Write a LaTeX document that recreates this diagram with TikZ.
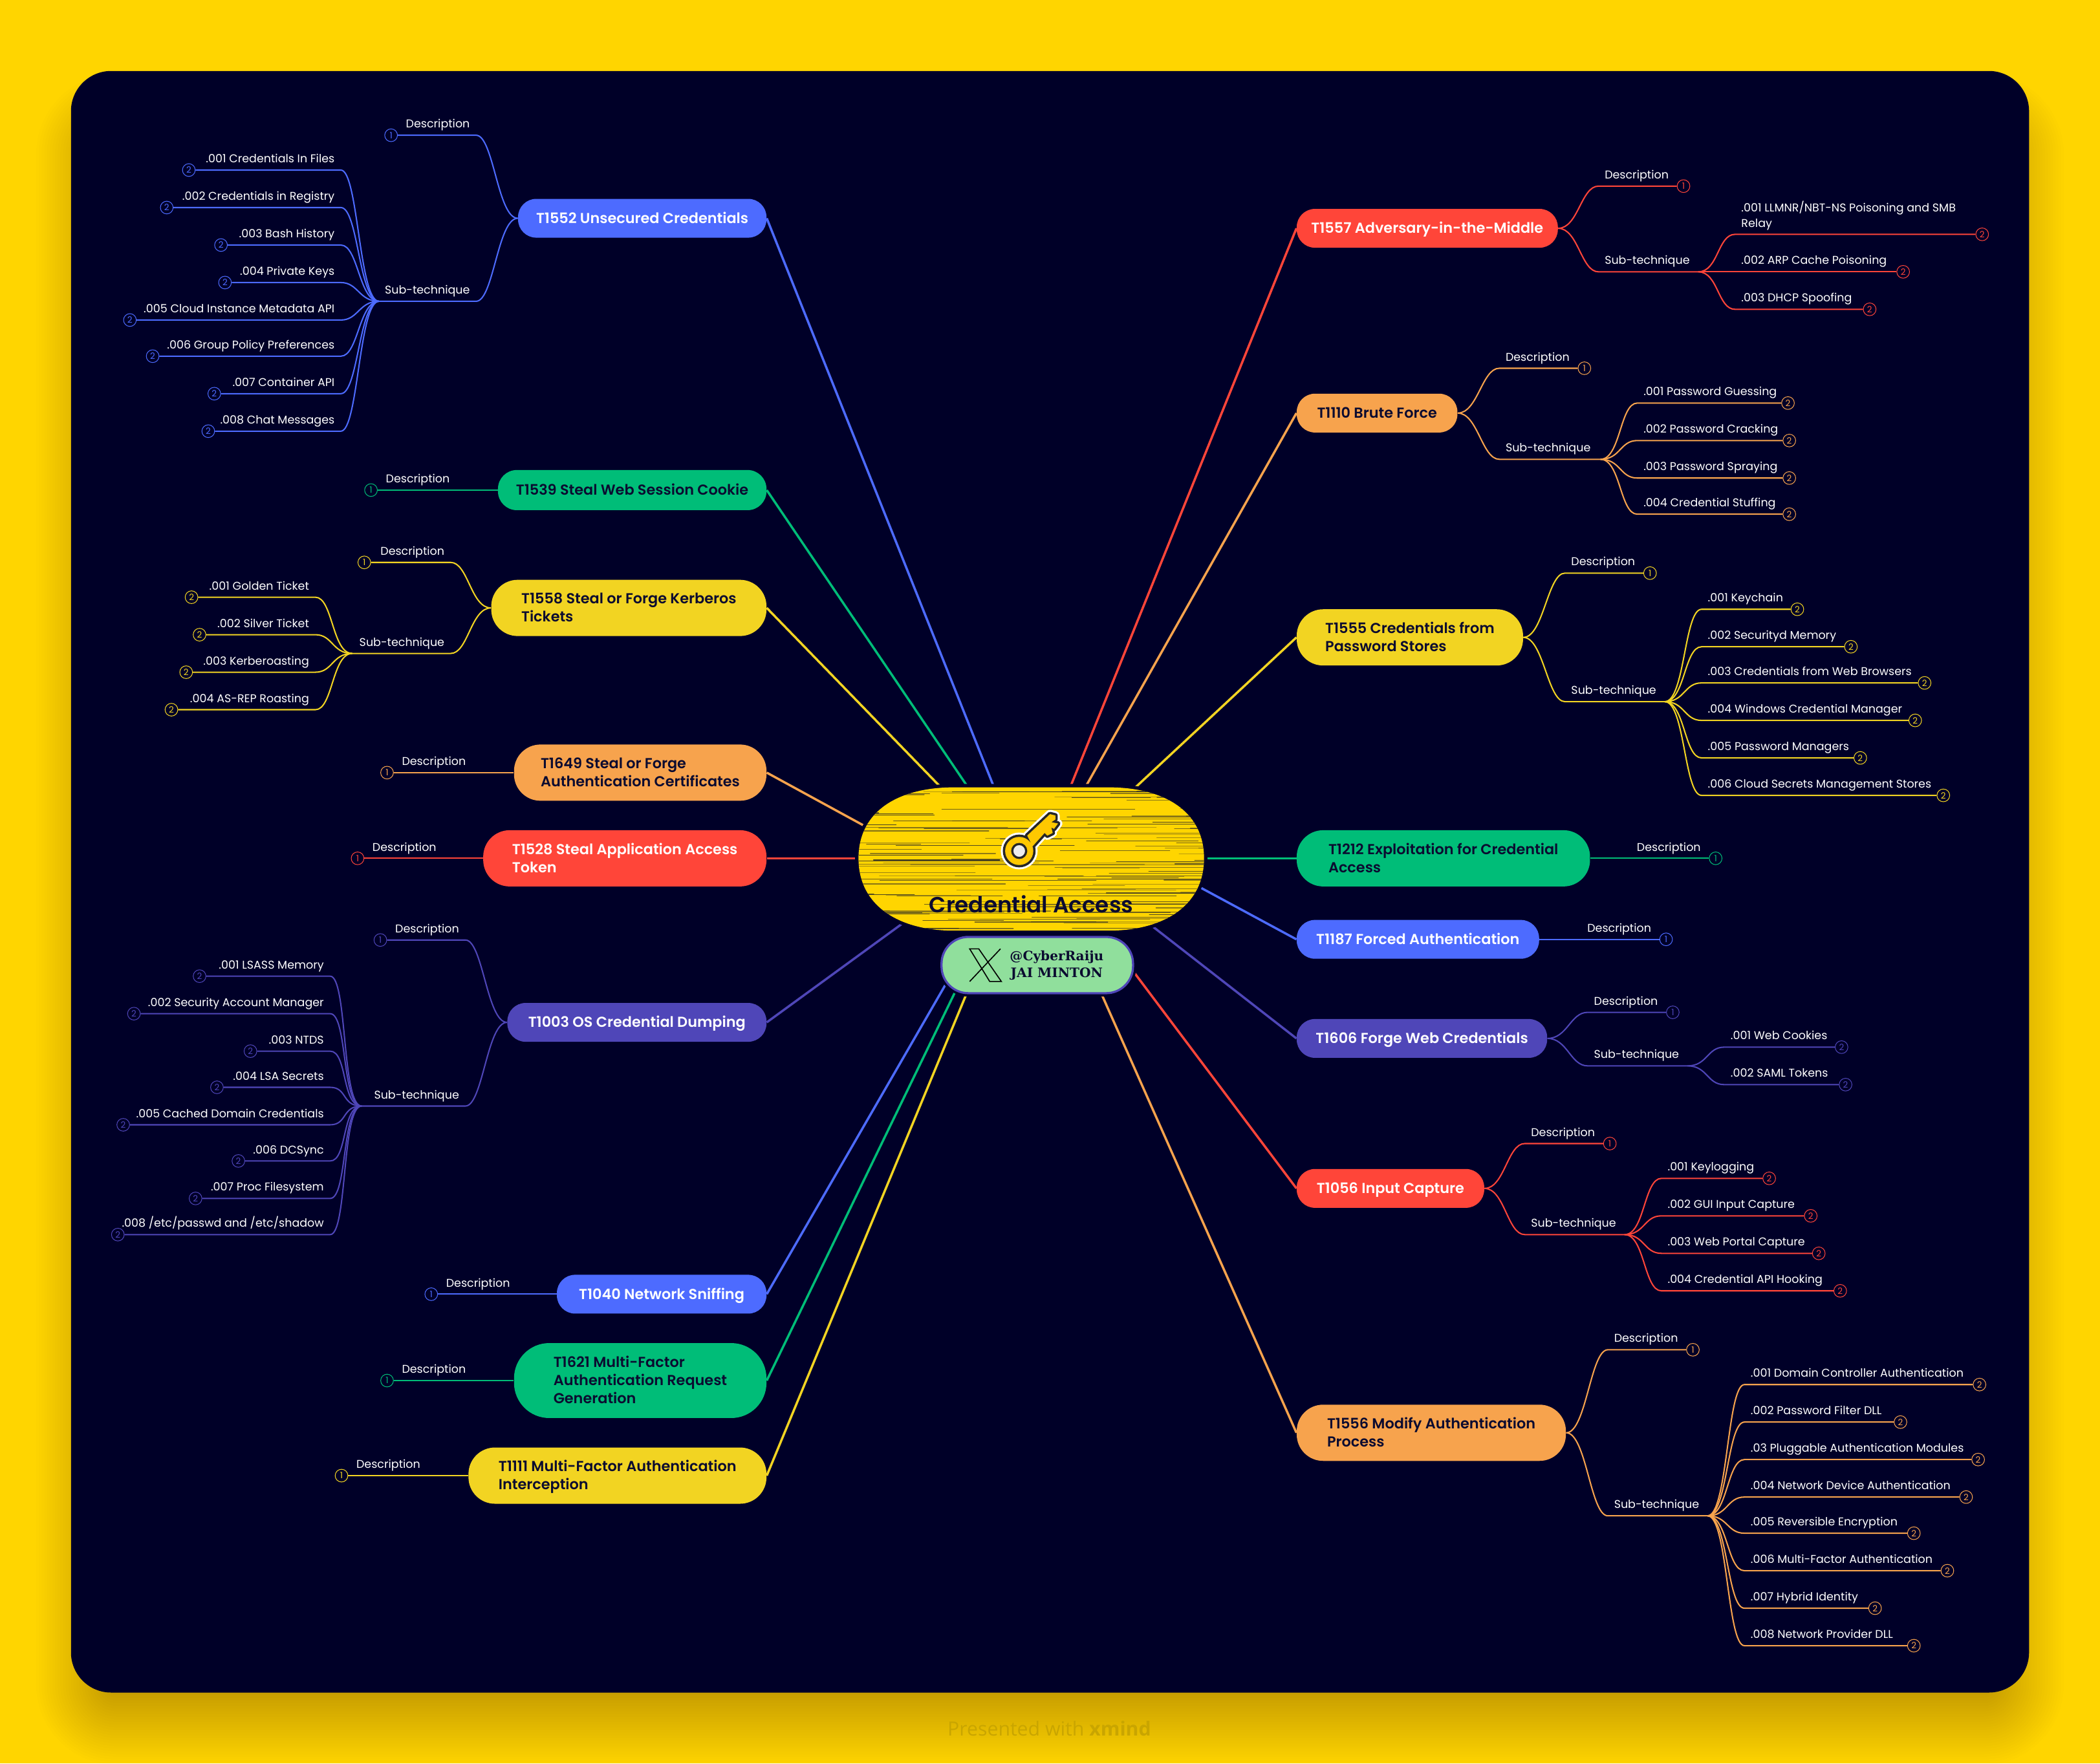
\documentclass[tikz,border=0pt]{standalone}
\usepackage{fontspec}
\setmainfont{Poppins}
\newfontfamily\topicfont{Poppins SemiBold}
\newfontfamily\slabfont{DejaVu Serif}
\newfontfamily\plainfont{Open Sans}
\usetikzlibrary{positioning,calc}
\definecolor{sunny}{HTML}{FFD500}
\definecolor{navy}{HTML}{000028}
\definecolor{azul}{HTML}{4D6BFF}
\definecolor{jade}{HTML}{00BD78}
\definecolor{gold}{HTML}{F2D422}
\definecolor{peach}{HTML}{F7A34D}
\definecolor{coral}{HTML}{FF4539}
\definecolor{indigo}{HTML}{4F46B8}
\definecolor{mint}{HTML}{90DF9C}
\definecolor{ink}{HTML}{0B0B30}
\definecolor{stamp}{HTML}{C9A500}
\tikzset{
  topic/.style={align=left, inner sep=0pt, font=\topicfont\fontsize{10.8}{13.5}\selectfont},
  note/.style={inner sep=0pt, text=white, font=\fontsize{8.45}{11.5}\selectfont},
  twig/.style={draw=#1, line width=1pt},
  ray/.style={draw=#1, line width=1.7pt},
  badge/.style={circle, draw=#1, fill=navy, text=#1, line width=.5pt, inner sep=0pt,
                minimum size=9.5pt, font=\fontsize{6.5}{6.5}\selectfont},
  hatch/.style={draw=black!85, line cap=round}
}
\newcommand{\setside}[1]{\ifnum#1>0 \def\nearside{base west}\def\topicside{east}\else \def\nearside{base east}\def\topicside{west}\fi}
\newcommand{\descline}[6]{
  \setside{#3}
  \coordinate (#1-dj) at (#4,#5);
  \node[note,anchor=\nearside] (#1-dn) at ({#4+#3*4.5},#5-5.5) {Description};
  \node[badge=#2] (#1-db) at (#6,#5) {1};
  \draw[twig=#2] (#1-db) -- (#1-dj) .. controls +({-13*#3},0) and +({15*#3},0) .. (#1.\topicside);
}
\newcommand{\subline}[8]{
  \setside{#3}
  \coordinate (#1-sj) at (#4,#5);
  \coordinate (#1-hub) at (#6,#5);
  \node[note,anchor=\nearside] (#1-sn) at ({#4+#3*4.5},#5-5.5) {Sub-technique};
  \draw[twig=#2] (#1-hub) -- (#1-sj) .. controls +({-13*#3},0) and +({15*#3},0) .. (#1.\topicside);
  \foreach \ly/\bx/\lab [count=\i] in {#8} {
    \coordinate (#1-j\i) at (#7,\ly);
    \node[note,anchor=\nearside] (#1-l\i) at ({#7+#3*4.5},\ly-5.5) {\lab};
    \node[badge=#2] (#1-b\i) at (\bx,\ly) {2};
    \draw[twig=#2] (#1-b\i) -- (#1-j\i) .. controls +({-13*#3},0) and +({15*#3},0) .. (#1-hub);
  }
}
\newcommand{\heartpath}{(641,641) .. controls (641,605) and (672,588) .. (712,588) -- (828,588)
  .. controls (868,588) and (899,605) .. (899,641) .. controls (899,677) and (868,695) .. (828,695)
  -- (712,695) .. controls (672,695) and (641,677) .. (641,641) -- cycle}
\newcommand{\keypath}{(767,624) -- (784,608) -- (788,609) -- (788,612) -- (785,614) -- (790,615)
  -- (787,619) -- (785,618) -- (786,622) -- (782,624) -- (780,622) -- (771,632) -- cycle
  (761,635.5) circle[radius=10.5]}
\begin{document}
\begin{tikzpicture}[x=1pt, y=-1pt]
  \useasboundingbox (0,0) rectangle (1568,1317);
  \fill[sunny] (0,0) rectangle (1568,1317);
  \foreach \k in {-26,-24,...,26}
    \fill[black, opacity=.006, rounded corners=(34+\k)*1pt] (53-\k,81-\k) rectangle (1515+\k,1292+\k);
  \fill[navy, rounded corners=30pt] (53,53) rectangle (1515,1264);
  \node[text=stamp, font=\plainfont\fontsize{14.6}{16}\selectfont] (stampnote) at (783.5,1291) {Presented with \textbf{xmind}};

  \foreach \name/\side/\px/\py/\w/\h/\col/\tint/\lab in {
    T1552/east/572.5/163/185.5/29/azul/white/{T1552 Unsecured Credentials},
    T1539/east/572.5/366/200.5/30/jade/ink/{T1539 Steal Web Session Cookie},
    T1558/east/572.5/454/205.5/42/gold/ink/{T1558 Steal or Forge Kerberos\\Tickets},
    T1649/east/572.5/577/188.5/42/peach/ink/{T1649 Steal or Forge\\Authentication Certificates},
    T1528/east/572.5/641/211.5/42/coral/white/{T1528 Steal Application Access\\Token},
    T1003/east/572.5/763.5/193.5/29/indigo/white/{T1003 OS Credential Dumping},
    T1040/east/572.5/966.5/156.5/29/azul/white/{T1040 Network Sniffing},
    T1621/east/572.5/1031/188.5/56/jade/ink/{T1621 Multi-Factor\\Authentication Request\\Generation},
    T1111/east/572.5/1102/222.5/42/gold/ink/{T1111 Multi-Factor Authentication\\Interception},
    T1557/west/968/170.5/195/29/coral/white/{T1557 Adversary-in-the-Middle},
    T1110/west/968/308.5/120/29/peach/ink/{T1110 Brute Force},
    T1555/west/968/476/169/42/gold/ink/{T1555 Credentials from\\Password Stores},
    T1212/west/968/641/219/42/jade/ink/{T1212 Exploitation for Credential\\Access},
    T1187/west/968/701.5/181/29/azul/white/{T1187 Forced Authentication},
    T1606/west/968/775.5/187/29/indigo/white/{T1606 Forge Web Credentials},
    T1056/west/968/887.5/140/29/coral/white/{T1056 Input Capture},
    T1556/west/968/1070/201/42/peach/ink/{T1556 Modify Authentication\\Process}} {
    \node[topic, anchor=\side, fill=\col, text=\tint, minimum width=\w pt, minimum height=\h pt,
          rounded corners=\h*0.47pt] (\name) at (\px,\py) {\rule{0pt}{10.5pt}\lab\rule[-3pt]{0pt}{0pt}};
  }

  \foreach \name/\side/\hx/\hy/\col in {
    T1552/east/763/640/azul, T1539/east/758/640/jade, T1558/east/753/640/gold,
    T1649/east/688/640/peach, T1528/east/700/641/coral, T1003/east/742/640/indigo,
    T1040/east/761/640/azul, T1621/east/762/640/jade, T1111/east/764/640/gold,
    T1557/west/778/640/coral, T1110/west/781/640/peach, T1555/west/792/640/gold,
    T1212/west/850/641/jade, T1187/west/854/640/azul, T1606/west/794/640/indigo,
    T1056/west/782/640/coral, T1556/west/777/640/peach} {
    \coordinate (\name-core) at (\hx,\hy);
    \draw[ray=\col] (\name.\side) -- (\name-core);
  }

  \descline{T1552}{azul}{-1}{355.5}{101}{292}
  \subline{T1552}{azul}{-1}{355.5}{225}{283}{254.5}{
    127/141/{.001 Credentials In Files}, 155/124.5/{.002 Credentials in Registry},
    183/165/{.003 Bash History}, 211/168/{.004 Private Keys},
    239/97/{.005 Cloud Instance Metadata API}, 266/114/{.006 Group Policy Preferences},
    294/160/{.007 Container API}, 322/155.5/{.008 Chat Messages}}
  \descline{T1539}{jade}{-1}{340.5}{366}{277}
  \descline{T1558}{gold}{-1}{336.5}{420}{272}
  \subline{T1558}{gold}{-1}{336.5}{488}{263}{235.5}{
    446/143/{.001 Golden Ticket}, 474/149/{.002 Silver Ticket},
    502/139/{.003 Kerberoasting}, 530/128/{.004 AS-REP Roasting}}
  \descline{T1649}{peach}{-1}{352.5}{577}{289}
  \descline{T1528}{coral}{-1}{330.5}{641}{267}
  \descline{T1003}{indigo}{-1}{347.5}{702}{284}
  \subline{T1003}{indigo}{-1}{347.5}{826}{270}{246.5}{
    729/149/{.001 LSASS Memory}, 757/100/{.002 Security Account Manager},
    785/187/{.003 NTDS}, 812/162/{.004 LSA Secrets},
    840/92/{.005 Cached Domain Credentials}, 867/178/{.006 DCSync},
    895/146/{.007 Proc Filesystem}, 922/88/{.008 /etc/passwd and /etc/shadow}}
  \descline{T1040}{azul}{-1}{385.5}{966.5}{322}
  \descline{T1621}{jade}{-1}{352.5}{1031}{289}
  \descline{T1111}{gold}{-1}{318.5}{1102}{255}

  \descline{T1557}{coral}{1}{1193.5}{139}{1257}
  \subline{T1557}{coral}{1}{1193.5}{203}{1268}{1295.5}{
    175/1480/{\shortstack[l]{.001 LLMNR/NBT-NS Poisoning and SMB\\Relay}},
    203/1421/{.002 ARP Cache Poisoning}, 231/1396/{.003 DHCP Spoofing}}
  \descline{T1110}{peach}{1}{1119.5}{275}{1183}
  \subline{T1110}{peach}{1}{1119.5}{343}{1195}{1222.5}{
    301/1335/{.001 Password Guessing}, 329/1336/{.002 Password Cracking},
    357/1336/{.003 Password Spraying}, 384/1336/{.004 Credential Stuffing}}
  \descline{T1555}{gold}{1}{1168.5}{428}{1232}
  \subline{T1555}{gold}{1}{1168.5}{524}{1243}{1270.5}{
    455/1342/{.001 Keychain}, 483/1382/{.002 Securityd Memory},
    510/1437/{.003 Credentials from Web Browsers}, 538/1430/{.004 Windows Credential Manager},
    566/1389/{.005 Password Managers}, 594/1451/{.006 Cloud Secrets Management Stores}}
  \descline{T1212}{jade}{1}{1217.5}{641}{1281}
  \descline{T1187}{azul}{1}{1180.5}{701.5}{1244}
  \descline{T1606}{indigo}{1}{1185.5}{756}{1249}
  \subline{T1606}{indigo}{1}{1185.5}{796}{1260}{1287.5}{
    782/1375/{.001 Web Cookies}, 810/1378/{.002 SAML Tokens}}
  \descline{T1056}{coral}{1}{1138.5}{854}{1202}
  \subline{T1056}{coral}{1}{1138.5}{922}{1213}{1240.5}{
    880/1321/{.001 Keylogging}, 908/1352/{.002 GUI Input Capture},
    936/1358/{.003 Web Portal Capture}, 964/1374/{.004 Credential API Hooking}}
  \descline{T1556}{peach}{1}{1200.5}{1008}{1264}
  \subline{T1556}{peach}{1}{1200.5}{1132}{1275}{1302.5}{
    1034/1478/{.001 Domain Controller Authentication}, 1062/1419/{.002 Password Filter DLL},
    1090/1477/{.03 Pluggable Authentication Modules}, 1118/1468/{.004 Network Device Authentication},
    1145/1429/{.005 Reversible Encryption}, 1173/1454/{.006 Multi-Factor Authentication},
    1201/1400/{.007 Hybrid Identity}, 1229/1429/{.008 Network Provider DLL}}

  \draw[navy, line width=5pt] \heartpath;
  \fill[sunny] \heartpath;
  \begin{scope}
    \clip \heartpath;
    \pgfmathsetseed{23}
    \foreach \i in {1,...,130} {
      \pgfmathsetmacro{\hy}{590+rnd*104}
      \pgfmathsetmacro{\hx}{560+rnd*340}
      \pgfmathsetmacro{\hl}{40+rnd*140}
      \pgfmathsetmacro{\hw}{.2+rnd*.6}
      \pgfmathsetmacro{\ho}{.3+rnd*.6}
      \draw[hatch, line width=\hw pt, opacity=\ho] (\hx,\hy) -- ++(\hl,0);
    }
  \end{scope}
  \draw[white, line width=6.5pt, line join=round] \keypath;
  \draw[black!85, line width=3.5pt, line join=round] \keypath;
  \fill[sunny!85!orange] \keypath;
  \filldraw[fill=white!93!black, draw=black!85, line width=1.6pt] (761,635.5) circle[radius=5.2];
  \node[text=ink, font=\topicfont\fontsize{16.5}{18}\selectfont] (credaccess) at (770,675) {Credential Access};

  \node[fill=mint, draw=indigo, line width=1.6pt, rounded corners=20pt, minimum width=143pt, minimum height=42pt,
        preaction={draw=navy, line width=5pt}] (xpill) at (774.5,720.7) {};
  \draw[black, line width=.8pt, line join=miter] (724,708.6) -- (730.8,708.6) -- (747.7,733) -- (739,733) -- cycle;
  \draw[black, line width=.8pt] (747,708.6) -- (724,733);
  \node[align=center, inner sep=0pt, text=ink, font=\slabfont\fontsize{9.7}{12.2}\selectfont\bfseries] (handle) at (789,721) {@CyberRaiju\\JAI MINTON};
\end{tikzpicture}
\end{document}
